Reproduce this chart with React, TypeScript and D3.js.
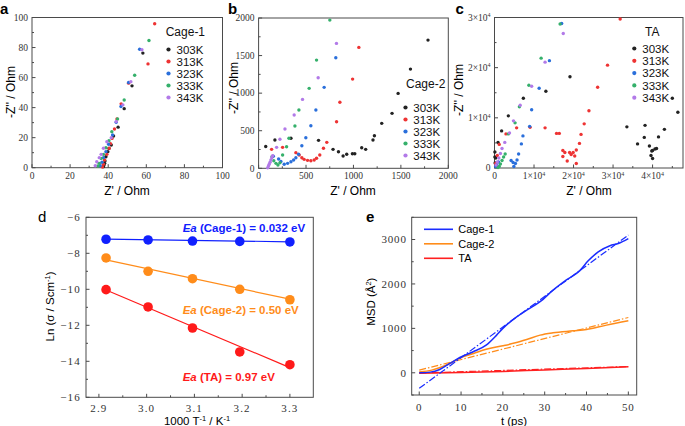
import React from 'react';
import * as d3 from 'd3';

const W = 685, H = 426;
const SERIF = "'Liberation Serif', 'DejaVu Serif', serif";
const SANS = "'Liberation Sans', Arial, sans-serif";

// ---------- Nyquist data (a, b, c) ----------
const tempLabels = ['303K', '313K', '323K', '333K', '343K'];
const nyqColors = ['#222222', '#ee3333', '#2a6fdb', '#35b06b', '#b27ae8'];

// panel a: Cage-1 [Z', -Z'']
const a303 = [[37.5,0.7],[37.8,1.8],[38.1,2.9],[38.3,4.5],[38.8,7.3],[39.8,10.7],[40.4,12.8],[41.6,15.1],[42.8,21.1],[45.2,27],[48.4,39.3],[52.5,54.5],[58.2,76.3]];
const a313 = [[37,0.4],[37.5,2.3],[38.1,5.1],[39.3,8.9],[40.5,12.9],[41.2,16],[42.0,19.5],[43.3,25.8],[44.6,32.5],[46.8,42.5],[50.7,56.3],[60.9,69.1],[64.4,95.8]];
const a323 = [[35.8,1.3],[36.7,3.6],[37.5,6.7],[38.8,10.7],[40.2,15.6],[42.3,21.8],[44.2,30.3],[46.7,40.7],[50.7,56.7],[56.5,78.9]];
const a333 = [[34.6,1.1],[35.3,2.9],[36.3,6.2],[37.5,8.9],[38.8,13.3],[40.4,18],[41.9,24],[44.9,32.5],[48.4,45.1],[53.9,61.6],[61.4,84.7]];
const a343 = [[33.2,1.3],[34,4],[35.3,6.7],[36.3,8.9],[37.5,12.9],[39.3,17.3],[41.6,20],[44.2,30.7],[47.7,41.8],[51.9,57.3],[57.7,78.5]];

// panel b: Cage-2
const b303 = [[75,290],[172,376],[341,399],[632,372],[785,252],[842,221],[891,164],[929,186],[989,194],[1014,194],[1087,274],[1129,252],[1206,376],[1221,434],[1298,598],[1407,731],[1471,997],[1601,1320],[1786,1706]];
const b313 = [[137,252],[253,279],[393,208],[428,177],[456,141],[480,119],[516,106],[551,101],[586,110],[611,133],[645,177],[684,266],[719,345],[822,620],[857,878],[991,1187],[1057,1609]];
const b323 = [[155,160],[211,124],[235,90],[270,53],[306,66],[341,88],[369,110],[393,141],[421,186],[456,301],[498,407],[551,566],[604,775],[691,1077],[814,1471]];
const b333 = [[141,154],[160,100],[183,66],[204,44],[225,74],[253,177],[295,287],[320,399],[383,562],[425,775],[533,1064],[611,1440],[751,1972]];
const b343 = [[96,8],[104,30],[112,53],[121,80],[130,110],[139,140],[148,168],[190,279],[225,386],[278,523],[375,709],[463,917],[628,1205],[821,1662]];

// panel c: TA
const c303 = [[100,2200],[150,1000],[100,3200],[300,2000],[890,5100],[1800,7400],[3500,10400],[7300,13900],[13000,15300],[19100,18200],[33500,8200],[36200,4800],[38100,8500],[37900,6100],[39200,4400],[39800,3400],[40000,3500],[40600,3800],[41000,3900],[40000,1900],[39600,2500],[41500,6200],[43000,7700],[46400,11100],[45000,13900]];
const c313 = [[300,900],[700,2500],[1200,4700],[2900,6800],[5600,8000],[9000,8100],[12800,8000],[15700,6900],[16400,6900],[17300,3500],[17800,3100],[17300,2300],[18400,1400],[19000,3100],[19400,2700],[19900,3100],[20300,2400],[20700,900],[20700,3600],[21500,4900],[21900,6700],[22700,8800],[23900,11400],[26100,16100],[28600,20500],[31800,29700]];
const c323 = [[300,300],[600,600],[1000,1200],[4200,1500],[4700,1100],[4900,300],[5300,900],[5700,1600],[6100,2800],[6800,4800],[7200,6400],[8900,8300],[9400,11600],[11300,15900],[13900,21400],[17000,28800]];
const c333 = [[900,100],[1200,300],[1500,800],[1900,1500],[2300,2200],[2700,2800],[3500,6800],[5200,9000],[6300,12200],[8700,16500],[11800,21900],[16600,28700]];
const c343 = [[400,600],[700,1200],[1100,2000],[1500,2900],[1900,3900],[2600,5100],[3800,7000],[4800,9400],[6500,12500],[9400,16300],[12800,21100],[17400,26800]];

// ---------- Arrhenius data (d) ----------
const invT = [2.915, 3.003, 3.096, 3.195, 3.300];
const lnCage1 = [-7.22, -7.26, -7.32, -7.34, -7.37];
const lnCage2 = [-8.26, -9.00, -9.41, -10.00, -10.58];
const lnTA = [-10.02, -10.98, -12.15, -13.48, -14.19];
const fitX = [2.915, 3.300];
const fitCage1 = [-7.21, -7.36];
const fitCage2 = [-8.37, -10.55];
const fitTA = [-10.04, -14.35];

// ---------- MSD data (e) ----------
const tCage1 = [0, 2.6, 4.9, 7.3, 10.1, 12.9, 16, 18.5, 20, 23.3, 25.7, 28.9, 32, 35.2, 38.4, 40.4, 42.8, 45.6, 47.6, 50];
const msdCage1 = [0, 15, 75, 210, 360, 473, 622, 848, 1000, 1260, 1410, 1600, 1860, 2090, 2300, 2520, 2720, 2860, 2910, 3020];
const tCage2 = [0, 3, 5, 7.3, 10, 13, 16, 20, 23, 25.7, 28.9, 32, 36.8, 40, 44.8, 50];
const msdCage2 = [20, 60, 120, 210, 340, 435, 530, 608, 675, 750, 848, 900, 945, 975, 1073, 1170];
const tTA = [0, 10, 20, 30, 40, 50];
const msdTA = [-10, 5, 30, 65, 95, 135];
const fitT = [0, 50];
const fitMsdCage1 = [-350, 3100];
const fitMsdCage2 = [60, 1245];
const fitMsdTA = [-5, 140];

// ---------- helpers ----------
function Frame({ x, y, xMajor, xMinor, yMajor, yMinor, xLab, yLab, fs, xOff, yOff, ls = 0 }: any) {
  const [x0, x1] = x.range();
  const [y0, y1] = y.range();
  const stroke = '#4a4a4a';
  return (
    <g>
      <rect x={x0} y={y1} width={x1 - x0} height={y0 - y1} fill="none" stroke={stroke} strokeWidth={1} />
      {xMajor.map((v: number) => (
        <line key={'xm' + v} x1={x(v)} x2={x(v)} y1={y0} y2={y0 - 3.5} stroke={stroke} />
      ))}
      {xMinor.map((v: number) => (
        <line key={'xn' + v} x1={x(v)} x2={x(v)} y1={y0} y2={y0 - 2} stroke={stroke} />
      ))}
      {yMajor.map((v: number) => (
        <line key={'ym' + v} x1={x0} x2={x0 + 3.5} y1={y(v)} y2={y(v)} stroke={stroke} />
      ))}
      {yMinor.map((v: number) => (
        <line key={'yn' + v} x1={x0} x2={x0 + 2} y1={y(v)} y2={y(v)} stroke={stroke} />
      ))}
      {xMajor.map((v: number, i: number) => (
        <text key={'xl' + v} x={x(v)} y={y0 + xOff} textAnchor="middle" fontFamily={SERIF} fontSize={fs} fill="#333" letterSpacing={ls}>
          {xLab(v, i)}
        </text>
      ))}
      {yMajor.map((v: number, i: number) => (
        <text key={'yl' + v} x={x0 - yOff} y={y(v)} dy="0.35em" textAnchor="end" fontFamily={SERIF} fontSize={fs} fill="#333" letterSpacing={ls}>
          {yLab(v, i)}
        </text>
      ))}
    </g>
  );
}

const range = (a: number, b: number, s: number) => d3.range(a, b + s / 2, s);

function sciLab(v: number) {
  if (v === 0) return '0';
  const m = Math.round(v / 1e4);
  return (
    <>
      {m + '×10'}
      <tspan dy={-3.5} fontSize={6}>4</tspan>
    </>
  );
}

function Nyquist({ x, y, series, title, legend, xTicks, xMinor, yTicks, yMinor, xLab, yLab }: any) {
  return (
    <g>
      <Frame x={x} y={y} xMajor={xTicks} xMinor={xMinor} yMajor={yTicks} yMinor={yMinor}
        xLab={xLab} yLab={yLab} fs={9.5} xOff={11} yOff={4} />
      {series.map((s: number[][], i: number) =>
        s.map((p, j) => (
          <circle key={i + '-' + j} cx={x(p[0])} cy={y(p[1])} r={1.7} fill={nyqColors[i]} />
        ))
      )}
      <text x={legend.tx} y={legend.ty} fontFamily={SANS} fontSize={12} fill="#111">{title}</text>
      {tempLabels.map((t, i) => (
        <g key={t}>
          <circle cx={legend.dx} cy={legend.y0 + i * legend.step} r={2.1} fill={nyqColors[i]} />
          <text x={legend.lx} y={legend.y0 + i * legend.step} dy="0.36em" fontFamily={SANS} fontSize={11.5} fill="#111">{t}</text>
        </g>
      ))}
    </g>
  );
}

export default function App() {
  const xa = d3.scaleLinear().domain([0, 100]).range([32, 222.5]);
  const ya = d3.scaleLinear().domain([0, 100]).range([167.7, 17.5]);
  const xb = d3.scaleLinear().domain([0, 2000]).range([258.6, 448.3]);
  const yb = d3.scaleLinear().domain([0, 2000]).range([168.3, 18]);
  const xc = d3.scaleLinear().domain([0, 47700]).range([494.5, 683]);
  const yc = d3.scaleLinear().domain([0, 30000]).range([168, 17.5]);
  const xd = d3.scaleLinear().domain([2.873, 3.349]).range([86, 313.3]);
  const yd = d3.scaleLinear().domain([-16, -6]).range([397.3, 217.3]);
  const xe = d3.scaleLinear().domain([-1.8, 52]).range([411.7, 636.7]);
  const ye = d3.scaleLinear().domain([-500, 3500]).range([395, 217.3]);

  const fmt = (v: number) => String(v);
  const dLabX = (v: number) => v.toFixed(1);
  const minus = (v: number) => (v < 0 ? '−' + Math.abs(v) : String(v));

  const lineE = (ts: number[], vs: number[], curve = true) => {
    const g = d3.line<number>().x((_, i) => xe(ts[i])).y((v) => ye(v));
    if (curve) g.curve(d3.curveMonotoneX);
    return g(vs) || '';
  };
  const lineD = (xs: number[], vs: number[]) =>
    d3.line<number>().x((_, i) => xd(xs[i])).y((v) => yd(v))(vs) || '';

  const dColors = { c1: '#1020ff', c2: '#ff8c1a', ta: '#ff1a1a' };
  const eColors = { c1: '#1a2cff', c2: '#ff8c1a', ta: '#ff2020' };
  const dashDot = '7,2,1.5,2';

  return (
    <div style={{ position: 'fixed', left: 0, top: 0 }}>
      <svg width={W} height={H} viewBox={`0 0 ${W} ${H}`} style={{ display: 'block', background: '#fff' }}>
        <text x={0} y={13.5} fontFamily={SANS} fontSize={15} fontWeight="bold">a</text>
        <text x={228} y={13.5} fontFamily={SANS} fontSize={15} fontWeight="bold">b</text>
        <text x={455.5} y={13.5} fontFamily={SANS} fontSize={15} fontWeight="bold">c</text>
        <text x={38} y={221.5} fontFamily={SANS} fontSize={15}>d</text>
        <text x={366} y={222} fontFamily={SANS} fontSize={15} fontWeight="bold">e</text>

        {/* panel a */}
        <Nyquist x={xa} y={ya} series={[a303, a313, a323, a333, a343]} title="Cage-1"
          legend={{ tx: 165.7, ty: 36, dx: 168.5, lx: 176.5, y0: 49.5, step: 12 }}
          xTicks={range(0, 100, 20)} xMinor={range(10, 90, 20)} yTicks={range(0, 100, 20)} yMinor={range(10, 90, 20)}
          xLab={fmt} yLab={fmt} />
        <text transform="translate(15,92) rotate(-90)" textAnchor="middle" fontFamily={SANS} fontSize={12}>-Z'' / Ohm</text>
        <text x={127} y={195} textAnchor="middle" fontFamily={SANS} fontSize={12}>Z' / Ohm</text>

        {/* panel b */}
        <Nyquist x={xb} y={yb} series={[b303, b313, b323, b333, b343]} title="Cage-2"
          legend={{ tx: 406, ty: 87.5, dx: 405.5, lx: 413.3, y0: 107.5, step: 12 }}
          xTicks={range(0, 2000, 500)} xMinor={range(250, 1750, 500)} yTicks={range(0, 2000, 500)} yMinor={range(250, 1750, 500)}
          xLab={fmt} yLab={fmt} />
        <text transform="translate(238,88) rotate(-90)" textAnchor="middle" fontFamily={SANS} fontSize={12}>-Z'' / Ohm</text>
        <text x={353} y={195} textAnchor="middle" fontFamily={SANS} fontSize={12}>Z' / Ohm</text>

        {/* panel c */}
        <Nyquist x={xc} y={yc} series={[c303, c313, c323, c333, c343]} title="TA"
          legend={{ tx: 645, ty: 36, dx: 634.3, lx: 642.3, y0: 48.5, step: 12.3 }}
          xTicks={range(0, 40000, 10000)} xMinor={range(5000, 45000, 10000)} yTicks={range(0, 30000, 10000)} yMinor={range(5000, 25000, 10000)}
          xLab={sciLab} yLab={sciLab} />
        <text transform="translate(463,90) rotate(-90)" textAnchor="middle" fontFamily={SANS} fontSize={12}>-Z'' / Ohm</text>
        <text x={589} y={195} textAnchor="middle" fontFamily={SANS} fontSize={12}>Z' / Ohm</text>

        {/* panel d */}
        <Frame x={xd} y={yd} xMajor={range(2.9, 3.3, 0.1)} xMinor={range(2.95, 3.25, 0.1)}
          yMajor={range(-16, -6, 2)} yMinor={range(-15, -7, 2)} xLab={dLabX} yLab={minus} fs={11} xOff={15} yOff={5} ls={1.2} />
        <path d={lineD(fitX, fitCage1)} stroke={dColors.c1} strokeWidth={1.2} fill="none" />
        <path d={lineD(fitX, fitCage2)} stroke={dColors.c2} strokeWidth={1.2} fill="none" />
        <path d={lineD(fitX, fitTA)} stroke={dColors.ta} strokeWidth={1.2} fill="none" />
        {invT.map((v, i) => (
          <g key={'d' + i}>
            <circle cx={xd(v)} cy={yd(lnCage1[i])} r={4.8} fill={dColors.c1} />
            <circle cx={xd(v)} cy={yd(lnCage2[i])} r={4.8} fill={dColors.c2} />
            <circle cx={xd(v)} cy={yd(lnTA[i])} r={4.8} fill={dColors.ta} />
          </g>
        ))}
        <text x={182.7} y={232} fontFamily={SANS} fontSize={11.5} fontWeight="bold" fill={dColors.c1}>
          <tspan fontStyle="italic">Ea</tspan> (Cage-1) = 0.032 eV
        </text>
        <text x={182.7} y={314} fontFamily={SANS} fontSize={11.5} fontWeight="bold" fill={dColors.c2}>
          <tspan fontStyle="italic">Ea</tspan> (Cage-2) = 0.50 eV
        </text>
        <text x={182.7} y={381} fontFamily={SANS} fontSize={11.5} fontWeight="bold" fill={dColors.ta}>
          <tspan fontStyle="italic">Ea</tspan> (TA) = 0.97 eV
        </text>
        <text transform="translate(54,306.5) rotate(-90)" textAnchor="middle" fontFamily={SANS} fontSize={11.5}>
          Ln (σ / Scm<tspan dy={-4} fontSize={7.5}>-1</tspan><tspan dy={4}>)</tspan>
        </text>
        <text x={197} y={425} textAnchor="middle" fontFamily={SANS} fontSize={11.5}>
          1000 T<tspan dy={-4} fontSize={7.5}>-1</tspan><tspan dy={4}> / K</tspan><tspan dy={-4} fontSize={7.5}>-1</tspan>
        </text>

        {/* panel e */}
        <Frame x={xe} y={ye} xMajor={range(0, 50, 10)} xMinor={range(5, 45, 10)}
          yMajor={range(0, 3000, 1000)} yMinor={range(-500, 3500, 1000)} xLab={fmt} yLab={fmt} fs={11} xOff={16} yOff={5} ls={0.8} />
        <path d={lineE(fitT, fitMsdTA, false)} stroke={eColors.ta} strokeWidth={1.2} strokeDasharray={dashDot} fill="none" />
        <path d={lineE(tTA, msdTA)} stroke={eColors.ta} strokeWidth={1.5} fill="none" />
        <path d={lineE(fitT, fitMsdCage2, false)} stroke={eColors.c2} strokeWidth={1.2} strokeDasharray={dashDot} fill="none" />
        <path d={lineE(tCage2, msdCage2)} stroke={eColors.c2} strokeWidth={1.5} fill="none" />
        <path d={lineE(fitT, fitMsdCage1, false)} stroke={eColors.c1} strokeWidth={1.2} strokeDasharray={dashDot} fill="none" />
        <path d={lineE(tCage1, msdCage1)} stroke={eColors.c1} strokeWidth={1.5} fill="none" />
        {[['Cage-1', eColors.c1], ['Cage-2', eColors.c2], ['TA', eColors.ta]].map((d, i) => (
          <g key={d[0]}>
            <line x1={424} x2={453} y1={229.3 + i * 14.5} y2={229.3 + i * 14.5} stroke={d[1]} strokeWidth={1.6} />
            <text x={458.3} y={229.3 + i * 14.5} dy="0.36em" fontFamily={SANS} fontSize={11}>{d[0]}</text>
          </g>
        ))}
        <text transform="translate(375,301.7) rotate(-90)" textAnchor="middle" fontFamily={SANS} fontSize={11.5}>
          MSD (Å<tspan dy={-4} fontSize={7.5}>2</tspan><tspan dy={4}>)</tspan>
        </text>
        <text x={514} y={425} textAnchor="middle" fontFamily={SANS} fontSize={11.5}>t (ps)</text>
      </svg>
    </div>
  );
}
